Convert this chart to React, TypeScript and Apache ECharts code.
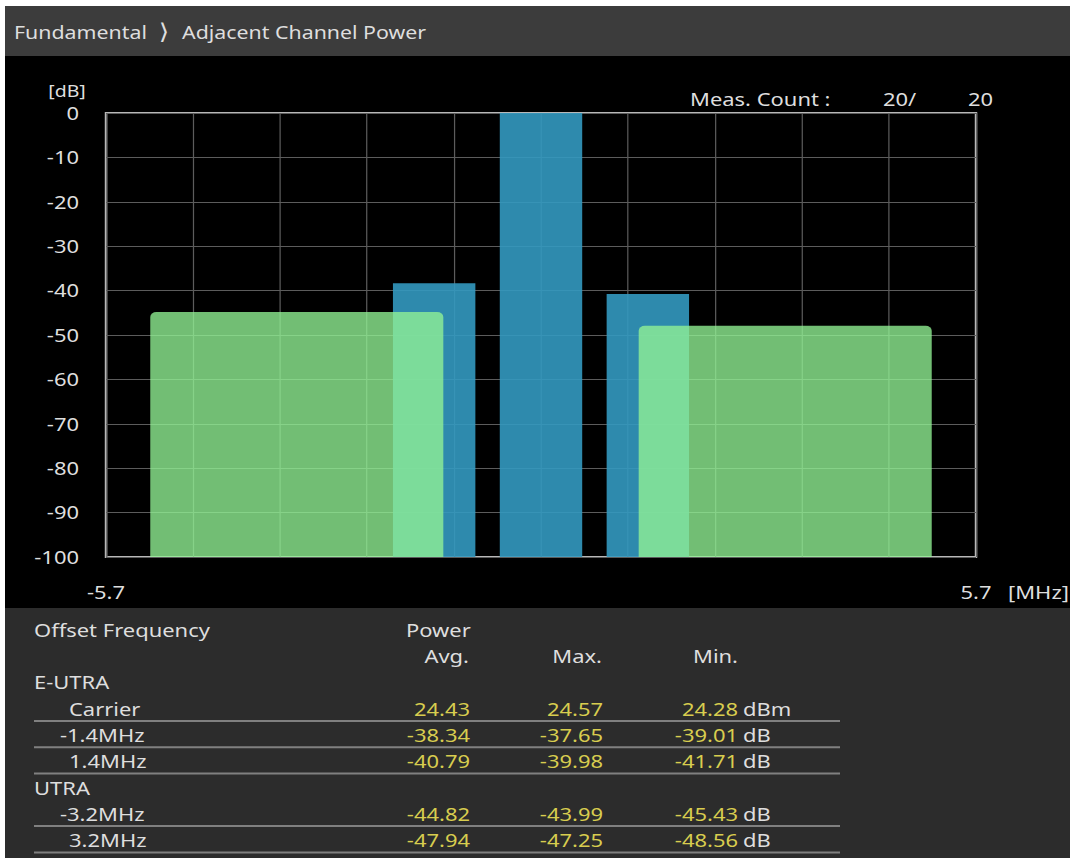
import React, { useEffect, useRef } from "react";
import * as echarts from "echarts";

// ---------- data ----------
const titleParent = "Fundamental";
const titleChild = "Adjacent Channel Power";
const measCountDone = 20;
const measCountTotal = 20;

const freqMin = -5.7;
const freqMax = 5.7;
const freqStep = 1.14;
const levelMin = -100;
const levelMax = 0;
const levelStep = 10;

// E-UTRA channels (carrier and adjacent), bars drawn at relative average level
const eutraOffsetMHz = [-1.4, 0, 1.4];
const eutraBandwidthMHz = 1.08;
const eutraLevelDb = [-38.34, 0, -40.79];

// UTRA adjacent channels
const utraOffsetMHz = [-3.2, 3.2];
const utraBandwidthMHz = 3.84;
const utraLevelDb = [-44.82, -47.94];

// result table
const groupLabels = ["E-UTRA", "UTRA"];
const rowLabels = ["Carrier", "-1.4MHz", "1.4MHz", "-3.2MHz", "3.2MHz"];
const rowGroup = [0, 0, 0, 1, 1];
const avgValues = [24.43, -38.34, -40.79, -44.82, -47.94];
const maxValues = [24.57, -37.65, -39.98, -43.99, -47.25];
const minValues = [24.28, -39.01, -41.71, -45.43, -48.56];
const rowUnits = ["dBm", "dB", "dB", "dB", "dB"];

// ---------- layout helpers ----------
const S = 1.22; // horizontal stretch of the whole screen
const OX = 5;
const OY = 6;
const CW = (1070 - OX) / S;
const CH = 858 - OY;
const X = (rx: number) => (rx - OX) / S;
const Y = (ry: number) => ry - OY;

const FONT = "'Noto Sans', 'Open Sans', sans-serif";
const TEXT = "#dedede";
const YELLOW = "#d8cd4f";
const FS = 18;

function txt(
  text: string,
  rx: number,
  ry: number,
  align: "left" | "right" | "center" = "left",
  fill: string = TEXT,
  fontSize = FS,
  fontFamily = FONT
) {
  return {
    type: "text",
    x: X(rx),
    y: Y(ry),
    z: 20,
    silent: true,
    style: { text, fill, fontSize, fontFamily, align, verticalAlign: "middle" },
  };
}

function buildGraphics() {
  const els: any[] = [];
  // header bar
  els.push({ type: "rect", z: 1, silent: true, shape: { x: 0, y: 0, width: CW, height: Y(56) }, style: { fill: "#3c3c3c" } });
  // table background
  els.push({ type: "rect", z: 1, silent: true, shape: { x: 0, y: Y(608), width: CW, height: CH - Y(608) }, style: { fill: "#2c2c2c" } });

  els.push(txt(titleParent, 14, 32, "left", TEXT, 17.5));
  els.push(txt("\u27E9", 164, 31, "center", TEXT, 22, "'DejaVu Sans', sans-serif"));
  els.push(txt(titleChild, 182, 32, "left", TEXT, 17.5));

  els.push(txt("[dB]", 67, 91, "center", TEXT, 16));
  els.push(txt("[MHz]", 1008, 592));
  els.push(txt("Meas. Count :", 690, 99));
  els.push(txt(`${measCountDone}/`, 883, 99));
  els.push(txt(`${measCountTotal}`, 968, 99));

  // table
  const step = 26.3;
  const y0 = 630;
  els.push(txt("Offset Frequency", 34, y0));
  els.push(txt("Power", 406, y0));
  els.push(txt("Avg.", 469, y0 + step, "right"));
  els.push(txt("Max.", 602, y0 + step, "right"));
  els.push(txt("Min.", 693, y0 + step));

  let line = 2;
  let lastGroup = -1;
  rowLabels.forEach((label, i) => {
    if (rowGroup[i] !== lastGroup) {
      lastGroup = rowGroup[i];
      els.push(txt(groupLabels[lastGroup], 34, y0 + line * step));
      line++;
    }
    const ry = y0 + line * step;
    els.push(txt(label, label.startsWith("-") ? 60 : 69, ry));
    els.push(txt(avgValues[i].toFixed(2), 470, ry, "right", YELLOW));
    els.push(txt(maxValues[i].toFixed(2), 603, ry, "right", YELLOW));
    els.push(txt(minValues[i].toFixed(2), 738, ry, "right", YELLOW));
    els.push(txt(rowUnits[i], 743, ry));
    els.push({
      type: "line",
      z: 20,
      silent: true,
      shape: { x1: X(34), y1: Y(ry + 12), x2: X(840), y2: Y(ry + 12) },
      style: { stroke: "#808080", lineWidth: 2 },
    });
    line++;
  });
  return els;
}

function bandSeries(name: string, centers: number[], bw: number, levels: number[], fill: string, radius: number[], z: number) {
  return {
    type: "custom",
    name,
    z,
    encode: { x: 0, y: 2 },
    data: centers.map((c, i) => [c, bw, levels[i]]),
    renderItem: (_params: any, api: any) => {
      const c = api.value(0) as number;
      const w = api.value(1) as number;
      const v = api.value(2) as number;
      const tl = api.coord([c - w / 2, v]);
      const br = api.coord([c + w / 2, levelMin]);
      return {
        type: "rect",
        shape: { x: tl[0], y: tl[1], width: br[0] - tl[0], height: br[1] - tl[1], r: radius },
        style: { fill },
      };
    },
  };
}

export default function App() {
  const ref = useRef<HTMLDivElement>(null);
  useEffect(() => {
    if (!ref.current) return;
    const chart = echarts.init(ref.current, null, { renderer: "svg" });
    chart.setOption({
      animation: false,
      backgroundColor: "#000000",
      textStyle: { fontFamily: FONT },
      grid: {
        left: X(106),
        top: Y(113),
        width: 870 / S,
        height: 444,
        show: true,
        borderColor: "#b8b8b8",
        borderWidth: 2,
        backgroundColor: "transparent",
      },
      xAxis: {
        type: "value",
        min: freqMin,
        max: freqMax,
        interval: freqStep,
        axisLine: { show: false },
        axisTick: { show: false },
        splitLine: { show: true, lineStyle: { color: "#5c5c5c", width: 1 } },
        axisLabel: {
          color: TEXT,
          fontSize: FS,
          fontFamily: FONT,
          margin: 26,
          showMinLabel: true,
          showMaxLabel: true,
          formatter: (v: number) => (Math.abs(Math.abs(v) - freqMax) < 1e-6 ? v.toFixed(1) : ""),
        },
      },
      yAxis: {
        type: "value",
        min: levelMin,
        max: levelMax,
        interval: levelStep,
        axisLine: { show: false },
        axisTick: { show: false },
        splitLine: { show: true, lineStyle: { color: "#5c5c5c", width: 1 } },
        axisLabel: { color: TEXT, fontSize: FS, fontFamily: FONT, margin: 27 / S },
      },
      graphic: { elements: buildGraphics() },
      series: [
        bandSeries("E-UTRA", eutraOffsetMHz, eutraBandwidthMHz, eutraLevelDb, "rgba(51,153,192,0.9)", [0, 0, 0, 0], 2),
        bandSeries("UTRA", utraOffsetMHz, utraBandwidthMHz, utraLevelDb, "rgba(146,244,149,0.78)", [5, 5, 0, 0], 3),
      ],
    });
    return () => chart.dispose();
  }, []);

  return (
    <div style={{ position: "fixed", left: 0, top: 0, width: 1070, height: 858, background: "#ffffff", overflow: "hidden" }}>
      <div
        ref={ref}
        style={{
          position: "absolute",
          left: OX,
          top: OY,
          width: CW,
          height: CH,
          transform: `scaleX(${S})`,
          transformOrigin: "0 0",
        }}
      />
    </div>
  );
}
